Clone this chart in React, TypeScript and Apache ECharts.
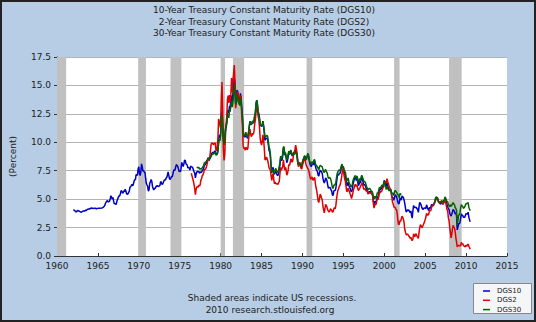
import React, { useEffect, useRef } from "react";
import * as echarts from "echarts";

// Monthly values (percent)
const DGS10_START = 1962; // Jan 1962
const DGS10: number[] = [
  4.08,4.04,4.01,3.89,3.88,3.90,4.02,3.98,3.98,3.93,3.92,3.86,
  3.83,3.92,3.93,3.97,3.93,3.99,4.02,4.00,4.08,4.11,4.12,4.13,
  4.17,4.15,4.22,4.23,4.20,4.17,4.19,4.19,4.20,4.19,4.15,4.18,
  4.19,4.21,4.21,4.20,4.21,4.21,4.20,4.25,4.29,4.35,4.45,4.62,
  4.61,4.83,4.87,4.75,4.78,4.81,5.02,5.30,5.18,5.01,5.16,4.84,
  4.58,4.63,4.54,4.59,4.85,5.02,5.16,5.28,5.30,5.48,5.75,5.70,
  5.53,5.56,5.74,5.64,5.87,5.72,5.50,5.42,5.46,5.58,5.70,6.03,
  6.04,6.19,6.30,6.17,6.32,6.57,6.72,6.69,7.16,7.10,7.14,7.65,
  7.85,7.24,7.07,7.39,8.10,7.84,7.46,7.53,7.39,7.33,6.84,6.39,
  6.24,6.11,5.70,5.83,6.39,6.52,6.73,6.58,6.14,5.93,5.81,5.93,
  5.95,6.08,6.07,6.19,6.13,6.11,6.11,6.21,6.55,6.48,6.28,6.36,
  6.46,6.64,6.71,6.67,6.85,6.90,7.13,7.40,7.09,6.79,6.73,6.74,
  6.99,6.96,7.21,7.51,7.58,7.54,7.81,8.04,8.04,7.90,7.68,7.43,
  7.50,7.39,7.73,8.23,8.06,7.86,8.06,8.40,8.43,8.14,8.05,8.00,
  7.74,7.79,7.73,7.56,7.90,7.86,7.83,7.77,7.59,7.41,7.29,6.87,
  7.21,7.39,7.46,7.37,7.46,7.28,7.33,7.40,7.34,7.52,7.58,7.69,
  7.96,8.03,8.04,8.15,8.35,8.46,8.64,8.41,8.42,8.64,8.81,9.01,
  9.10,9.10,9.12,9.18,9.25,8.91,8.95,9.03,9.33,10.30,10.65,10.39,
  10.80,12.41,12.75,11.47,10.18,9.78,10.25,11.10,11.51,11.75,12.68,12.84,
  12.57,13.19,13.12,13.68,14.10,13.47,14.28,14.94,15.60,15.15,13.39,13.72,
  14.59,14.43,13.86,13.87,13.62,14.30,13.95,13.06,12.34,10.91,10.55,10.54,
  10.46,10.72,10.51,10.40,10.38,10.85,11.38,11.85,11.65,11.54,11.69,11.83,
  11.67,11.84,12.32,12.63,13.41,13.70,13.36,12.72,12.52,12.16,11.57,11.50,
  11.38,11.51,11.86,11.43,10.85,10.16,10.31,10.33,10.37,10.24,9.78,9.26,
  9.19,8.70,7.78,7.30,7.71,7.80,7.30,7.17,7.45,7.43,7.25,7.11,
  7.08,7.25,7.25,8.02,8.61,8.40,8.45,8.76,9.42,9.52,8.86,8.99,
  8.67,8.21,8.37,8.72,9.09,8.92,9.06,9.26,8.98,8.80,8.96,9.11,
  9.09,9.17,9.36,9.18,8.86,8.28,8.02,8.11,8.19,8.01,7.87,7.84,
  8.21,8.47,8.59,8.79,8.76,8.48,8.47,8.75,8.89,8.72,8.39,8.08,
  8.09,7.85,8.11,8.04,8.07,8.28,8.27,7.90,7.65,7.53,7.42,7.09,
  7.03,7.34,7.54,7.48,7.39,7.26,6.84,6.59,6.42,6.59,6.87,6.77,
  6.60,6.26,5.98,5.97,6.04,5.96,5.81,5.68,5.36,5.33,5.72,5.77,
  5.75,5.97,6.48,6.97,7.18,7.10,7.30,7.24,7.46,7.74,7.96,7.81,
  7.78,7.47,7.20,7.06,6.63,6.17,6.28,6.49,6.20,6.04,5.93,5.71,
  5.65,5.81,6.27,6.51,6.74,6.91,6.87,6.64,6.83,6.53,6.20,6.30,
  6.58,6.42,6.69,6.89,6.71,6.49,6.22,6.30,6.21,6.03,5.88,5.81,
  5.54,5.57,5.65,5.64,5.65,5.50,5.46,5.34,4.81,4.53,4.83,4.65,
  4.72,5.00,5.23,5.18,5.54,5.90,5.79,5.94,5.92,6.11,6.03,6.28,
  6.66,6.52,6.26,5.99,6.44,6.10,6.05,5.83,5.80,5.74,5.72,5.24,
  5.16,5.10,4.89,5.14,5.39,5.28,5.24,4.97,4.73,4.57,4.65,5.09,
  5.04,4.91,5.28,5.21,5.16,4.93,4.65,4.26,3.87,3.94,4.05,4.03,
  4.05,3.90,3.81,3.96,3.57,3.33,3.98,4.45,4.27,4.29,4.30,4.27,
  4.15,4.08,3.83,4.35,4.72,4.73,4.50,4.28,4.13,4.10,4.19,4.23,
  4.22,4.17,4.50,4.34,4.14,4.00,4.18,4.26,4.20,4.46,4.54,4.47,
  4.42,4.57,4.72,4.99,5.11,5.11,5.09,4.88,4.72,4.73,4.60,4.56,
  4.76,4.72,4.56,4.69,4.75,5.10,5.00,4.67,4.52,4.53,4.15,4.10,
  3.74,3.74,3.51,3.68,3.88,4.10,4.01,3.89,3.69,3.81,3.53,2.30,
  2.52,2.87,2.82,2.93,3.29,3.72,3.56,3.59,3.40,3.39,3.40,3.59,
  3.73,3.69,3.73,3.85,3.42,3.20,3.01,
];

const DGS2_START = 1976 + 5 / 12; // Jun 1976
const DGS2: number[] = [
  7.28,7.05,6.82,6.58,6.30,5.92,5.40,
  5.85,6.05,6.12,6.05,6.25,6.15,6.28,6.65,6.80,7.05,7.12,7.30,
  7.55,7.62,7.65,7.80,8.05,8.35,8.55,8.40,8.65,9.15,9.85,9.90,
  9.95,9.80,9.85,9.90,9.95,9.35,9.25,9.60,10.35,12.05,11.85,11.50,
  11.25,13.85,15.30,12.75,9.45,8.40,8.85,10.45,11.65,12.25,13.75,14.10,
  13.45,14.15,13.55,14.15,15.65,14.40,15.40,16.05,16.80,15.45,13.00,13.45,
  14.30,14.45,14.10,14.00,13.50,14.10,13.85,12.20,11.50,9.75,9.45,9.55,
  9.30,9.55,9.50,9.35,9.50,10.25,10.75,11.15,10.75,10.50,10.60,10.80,
  10.70,11.00,11.65,11.95,12.75,13.15,12.85,12.30,12.00,11.30,10.35,9.95,
  9.75,10.05,10.65,10.25,9.50,8.50,8.45,8.70,8.60,8.40,8.10,7.75,
  7.75,7.55,7.05,6.65,7.05,7.25,6.70,6.35,6.50,6.35,6.35,6.35,
  6.30,6.45,6.55,7.25,7.80,7.55,7.55,7.85,8.45,8.45,7.55,7.80,
  7.60,7.10,7.25,7.55,8.05,7.95,8.20,8.55,8.45,8.25,8.45,8.95,
  9.15,9.35,9.75,9.45,9.10,8.50,7.85,8.10,8.25,7.90,7.70,7.65,
  7.95,8.20,8.40,8.60,8.45,8.10,7.90,7.80,7.80,7.55,7.30,7.00,
  6.75,6.75,6.95,6.75,6.65,6.85,6.90,6.35,6.00,5.70,5.30,4.85,
  4.70,5.10,5.45,5.30,5.10,4.95,4.40,4.05,3.80,4.15,4.55,4.55,
  4.30,4.05,3.95,3.85,3.95,4.15,4.15,4.00,3.85,3.90,4.15,4.25,
  4.15,4.45,5.00,5.45,5.80,5.90,6.15,6.20,6.45,6.75,7.20,7.70,
  7.60,7.10,6.75,6.55,6.10,5.65,5.75,5.95,5.75,5.65,5.45,5.30,
  5.05,5.05,5.55,5.85,6.05,6.25,6.30,6.10,6.25,5.95,5.75,5.85,
  5.95,5.95,6.25,6.45,6.30,6.10,5.85,5.95,5.85,5.75,5.70,5.75,
  5.45,5.45,5.55,5.55,5.55,5.50,5.45,5.25,4.65,4.20,4.55,4.50,
  4.55,4.85,5.05,4.95,5.25,5.60,5.55,5.70,5.65,5.85,5.85,6.10,
  6.40,6.55,6.50,6.40,6.80,6.55,6.35,6.15,6.00,5.90,5.80,5.25,
  4.75,4.60,4.35,4.25,4.30,4.10,4.05,3.75,3.10,2.75,2.80,3.10,
  3.05,3.05,3.50,3.40,3.25,2.95,2.35,2.10,1.90,1.85,1.95,1.85,
  1.75,1.70,1.55,1.65,1.45,1.35,1.50,1.95,1.75,1.70,1.95,1.90,
  1.75,1.75,1.55,2.05,2.50,2.75,2.65,2.50,2.55,2.55,2.85,3.00,
  3.20,3.40,3.75,3.65,3.60,3.65,3.90,4.05,3.95,4.20,4.35,4.40,
  4.40,4.65,4.75,4.85,4.95,5.10,5.05,4.80,4.70,4.75,4.65,4.65,
  4.85,4.80,4.55,4.65,4.75,4.95,4.80,4.40,4.05,4.00,3.35,3.10,
  2.50,2.05,1.60,1.90,2.40,2.70,2.55,2.45,2.15,1.60,1.25,0.80,
  0.80,0.95,0.90,0.90,0.90,1.20,1.05,1.10,0.95,0.95,0.80,0.85,
  0.95,0.85,0.95,1.05,0.85,0.75,0.60,
];

const DGS30_START_A = 1977 + 1 / 12; // Feb 1977 .. Feb 2002
const DGS30_A: number[] = [
  7.75,7.80,7.73,7.80,7.64,7.64,7.68,7.64,7.77,7.85,7.94,
  8.18,8.22,8.25,8.34,8.43,8.50,8.65,8.47,8.47,8.69,8.75,8.88,
  8.94,8.96,9.00,9.07,9.10,8.87,8.89,8.95,9.17,9.85,10.30,10.12,
  10.60,12.13,12.34,11.40,10.36,9.81,10.24,11.00,11.34,11.59,12.37,12.40,
  12.14,12.80,12.69,13.20,13.60,13.10,13.50,14.17,15.10,14.68,13.35,13.45,
  14.22,14.22,13.53,13.37,13.24,13.92,13.55,12.77,12.07,11.17,10.54,10.54,
  10.63,10.88,10.63,10.48,10.53,10.93,11.40,11.82,11.63,11.58,11.75,11.88,
  11.75,11.95,12.38,12.65,13.43,13.70,13.21,12.54,12.29,11.98,11.56,11.52,
  11.45,11.47,11.81,11.47,11.05,10.44,10.50,10.56,10.61,10.50,10.06,9.54,
  9.40,8.93,7.96,7.39,7.52,7.57,7.27,7.33,7.62,7.70,7.52,7.37,
  7.39,7.54,7.55,8.25,8.78,8.57,8.64,8.97,9.59,9.61,8.95,9.12,
  8.83,8.43,8.63,8.95,9.23,9.00,9.14,9.32,9.06,8.89,9.02,9.01,
  8.93,9.01,9.17,9.03,8.83,8.27,8.08,8.12,8.15,8.00,7.90,7.90,
  8.26,8.50,8.56,8.76,8.73,8.46,8.50,8.86,9.03,8.86,8.54,8.24,
  8.27,8.03,8.29,8.21,8.27,8.47,8.45,8.14,7.95,7.93,7.92,7.70,
  7.58,7.85,7.97,7.96,7.89,7.84,7.60,7.39,7.34,7.53,7.61,7.44,
  7.34,7.09,6.82,6.85,6.92,6.81,6.63,6.32,6.00,5.94,6.21,6.25,
  6.29,6.49,6.91,7.27,7.41,7.40,7.58,7.49,7.71,7.94,8.08,7.87,
  7.85,7.61,7.45,7.36,6.95,6.57,6.72,6.86,6.55,6.37,6.26,6.06,
  6.05,6.24,6.60,6.79,6.93,7.06,7.03,6.84,7.03,6.81,6.48,6.55,
  6.83,6.69,6.93,7.09,6.94,6.77,6.51,6.58,6.50,6.33,6.11,5.99,
  5.81,5.89,5.95,5.92,5.93,5.70,5.68,5.54,5.20,5.01,5.25,5.06,
  5.16,5.37,5.58,5.55,5.81,6.04,5.98,6.07,6.07,6.26,6.15,6.35,
  6.63,6.23,6.05,5.85,6.15,5.93,5.85,5.72,5.83,5.80,5.78,5.49,
  5.54,5.45,5.34,5.65,5.78,5.67,5.61,5.48,5.48,5.32,5.12,5.48,
  5.45,5.40,
];

const DGS30_START_B = 2006 + 1 / 12; // Feb 2006 .. Jul 2010
const DGS30_B: number[] = [
  4.54,4.73,5.06,5.20,5.15,5.13,4.91,4.77,4.80,4.69,4.68,
  4.85,4.82,4.72,4.87,4.90,5.20,5.11,4.93,4.79,4.77,4.52,4.53,
  4.33,4.52,4.39,4.44,4.60,4.69,4.57,4.50,4.27,4.17,4.00,2.70,
  3.13,3.59,3.64,3.76,4.23,4.52,4.41,4.37,4.19,4.19,4.31,4.49,
  4.60,4.62,4.64,4.69,4.29,4.13,3.99,
];

// NBER recessions [start, end] in fractional years
const RECESSIONS: [number, number][] = [
  [1960.0, 1961.12],
  [1969.92, 1970.87],
  [1973.87, 1975.2],
  [1980.0, 1980.54],
  [1981.5, 1982.87],
  [1990.5, 1991.2],
  [2001.2, 2001.87],
  [2007.92, 2009.46],
];

const TITLES = [
  "10-Year Treasury Constant Maturity Rate (DGS10)",
  "2-Year Treasury Constant Maturity Rate (DGS2)",
  "30-Year Treasury Constant Maturity Rate (DGS30)",
];
const LEGEND_NAMES = ["DGS10", "DGS2", "DGS30"];
const COLORS = ["#0000c8", "#e00000", "#006400"];

const toPairs = (start: number, vals: number[]) =>
  vals.map((v, i) => [start + i / 12, v]);

const FONT = "DejaVu Sans";

export default function App() {
  const ref = useRef<HTMLDivElement>(null);
  useEffect(() => {
    document.body.style.margin = "0";
    const chart = echarts.init(ref.current!, null, { renderer: "svg" });

    const dgs30 = [
      ...toPairs(DGS30_START_A, DGS30_A),
      [2004, "-"],
      ...toPairs(DGS30_START_B, DGS30_B),
    ];

    const graphic: any[] = [
      {
        type: "rect",
        shape: { x: 1, y: 1, width: 534, height: 320 },
        style: { fill: "none", stroke: "#222", lineWidth: 2 },
        silent: true,
      },
      ...TITLES.map((t, i) => ({
        type: "text",
        x: 264,
        y: 10 + i * 11.7,
        style: {
          text: t,
          fill: "#222",
          font: `9px "${FONT}"`,
          textAlign: "center",
          textVerticalAlign: "middle",
        },
      })),
      {
        type: "text",
        x: 272,
        y: 297.5,
        style: {
          text: "Shaded areas indicate US recessions.",
          fill: "#222",
          font: `9px "${FONT}"`,
          textAlign: "center",
          textVerticalAlign: "middle",
        },
      },
      {
        type: "text",
        x: 270,
        y: 310,
        style: {
          text: "2010 research.stlouisfed.org",
          fill: "#222",
          font: `9px "${FONT}"`,
          textAlign: "center",
          textVerticalAlign: "middle",
        },
      },
      {
        type: "rect",
        shape: { x: 473.5, y: 283.5, width: 58, height: 30 },
        style: { fill: "#f4f6f8", stroke: "#888", lineWidth: 1 },
      },
      ...LEGEND_NAMES.flatMap((n, i) => [
        {
          type: "line",
          shape: { x1: 483, y1: 291 + i * 9.3, x2: 490, y2: 291 + i * 9.3 },
          style: { stroke: COLORS[i], lineWidth: 1.5 },
        },
        {
          type: "text",
          x: 497,
          y: 291 + i * 9.3,
          style: {
            text: n,
            fill: "#222",
            font: `7px "${FONT}"`,
            textVerticalAlign: "middle",
          },
        },
      ]),
    ];

    chart.setOption({
      animation: false,
      backgroundColor: "#b6cde5",
      grid: {
        left: 51,
        right: 29,
        top: 57,
        bottom: 66,
        show: true,
        backgroundColor: "#ffffff",
        borderWidth: 0,
      },
      xAxis: {
        type: "value",
        min: 1960,
        max: 2015,
        interval: 5,
        axisLine: { show: true, lineStyle: { color: "#333", width: 1 } },
        axisTick: { show: true, inside: true, length: 3, lineStyle: { color: "#333" } },
        axisLabel: {
          fontSize: 9,
          fontFamily: FONT,
          color: "#222",
          margin: 5,
          formatter: (v: number) => String(v),
        },
        splitLine: { show: false },
      },
      yAxis: {
        type: "value",
        min: 0,
        max: 17.5,
        interval: 2.5,
        name: "(Percent)",
        nameLocation: "middle",
        nameRotate: 90,
        nameGap: 40,
        nameTextStyle: { fontSize: 9, fontFamily: FONT, color: "#222" },
        axisLine: { show: true, lineStyle: { color: "#333", width: 1 } },
        axisTick: { show: true, length: 3, lineStyle: { color: "#333" } },
        axisLabel: {
          fontSize: 9,
          fontFamily: FONT,
          color: "#222",
          margin: 6,
          formatter: (v: number) => v.toFixed(1),
        },
        splitLine: { show: true, lineStyle: { color: "#b4b4b4", width: 1 } },
      },
      series: [
        {
          name: "recessions",
          type: "line",
          data: [],
          silent: true,
          markArea: {
            silent: true,
            itemStyle: { color: "#c0c0c0" },
            data: RECESSIONS.map(([a, b]) => [{ xAxis: a }, { xAxis: b }]),
          },
        },
        {
          name: LEGEND_NAMES[0],
          type: "line",
          data: toPairs(DGS10_START, DGS10),
          showSymbol: false,
          lineStyle: { color: COLORS[0], width: 1.5 },
          itemStyle: { color: COLORS[0] },
        },
        {
          name: LEGEND_NAMES[1],
          type: "line",
          data: toPairs(DGS2_START, DGS2),
          showSymbol: false,
          lineStyle: { color: COLORS[1], width: 1.5 },
          itemStyle: { color: COLORS[1] },
        },
        {
          name: LEGEND_NAMES[2],
          type: "line",
          data: dgs30,
          showSymbol: false,
          connectNulls: false,
          lineStyle: { color: COLORS[2], width: 1.5 },
          itemStyle: { color: COLORS[2] },
        },
      ],
      graphic,
    });
    return () => chart.dispose();
  }, []);
  return <div ref={ref} style={{ width: 536, height: 322 }} />;
}
